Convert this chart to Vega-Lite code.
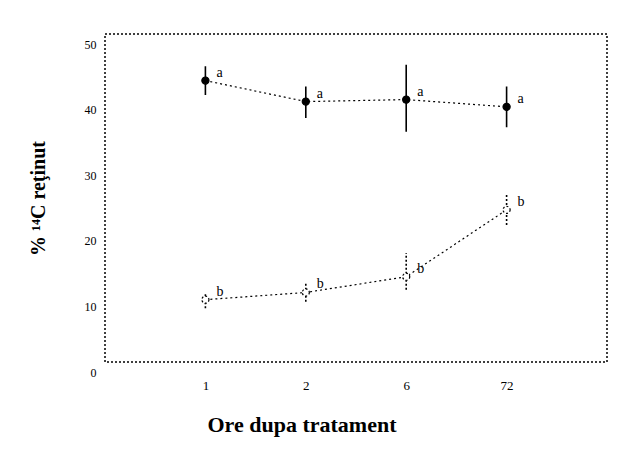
{
  "$schema": "https://vega.github.io/schema/vega-lite/v6.json",
  "width": 502,
  "height": 328,
  "autosize": {"type": "none"},
  "padding": {"left": 105, "top": 34, "right": 15, "bottom": 88},
  "background": "white",
  "config": {
    "view": {"stroke": "black", "strokeWidth": 1.5, "strokeDash": [2, 2]},
    "font": "Liberation Serif",
    "axis": {"titleFont": "Liberation Serif", "labelFont": "Liberation Serif"},
    "text": {"font": "Liberation Serif"}
  },
  "data": {
    "values": [
      {"hour": "1", "series": "A", "mean": 42.9, "lo": 40.7, "hi": 45.1, "label": "a"},
      {"hour": "2", "series": "A", "mean": 39.7, "lo": 37.2, "hi": 42.0, "label": "a"},
      {"hour": "6", "series": "A", "mean": 40.0, "lo": 35.1, "hi": 45.3, "label": "a"},
      {"hour": "72", "series": "A", "mean": 38.9, "lo": 35.8, "hi": 42.0, "label": "a"},
      {"hour": "1", "series": "B", "mean": 9.5, "lo": 8.2, "hi": 10.4, "label": "b"},
      {"hour": "2", "series": "B", "mean": 10.6, "lo": 9.2, "hi": 12.2, "label": "b"},
      {"hour": "6", "series": "B", "mean": 13.0, "lo": 11.0, "hi": 16.6, "label": "b"},
      {"hour": "72", "series": "B", "mean": 23.2, "lo": 20.9, "hi": 25.5, "label": "b"}
    ]
  },
  "encoding": {
    "x": {
      "field": "hour", "type": "ordinal", "sort": ["1", "2", "6", "72"],
      "scale": {"type": "point", "padding": 1},
      "axis": {
        "title": "Ore dupa tratament", "titleFontSize": 22,
        "titleFontWeight": "bold", "titleColor": "black", "titlePadding": 22,
        "titleAnchor": "start", "titleAlign": "left", "titleX": 102,
        "labelAngle": 0, "labelFontSize": 13, "labelColor": "black", "labelPadding": 17,
        "ticks": false, "domain": false, "grid": false
      }
    },
    "y": {
      "field": "mean", "type": "quantitative",
      "scale": {"domain": [0, 50], "nice": false},
      "axis": {
        "title": "% ¹⁴C reţinut", "titleFontSize": 20,
        "titleFontWeight": "bold", "titleColor": "black", "titlePadding": 36,
        "values": [0, 10, 20, 30, 40, 50], "labelFontSize": 12, "labelColor": "black",
        "labelPadding": 9, "labelOffset": 10, "ticks": false, "domain": false, "grid": false
      }
    }
  },
  "layer": [
    {
      "mark": {"type": "line", "color": "black", "strokeWidth": 1.2, "strokeDash": [2, 3]},
      "encoding": {"detail": {"field": "series"}}
    },
    {
      "mark": {"type": "rule", "color": "black", "strokeWidth": 1.6},
      "encoding": {
        "y": {"field": "lo", "type": "quantitative"},
        "y2": {"field": "hi"},
        "strokeDash": {"field": "series", "type": "nominal", "scale": {"domain": ["A", "B"], "range": [[1, 0], [2, 2]]}, "legend": null}
      }
    },
    {
      "mark": {"type": "point", "shape": "circle", "size": 50, "stroke": "black", "strokeWidth": 1.2, "opacity": 1},
      "encoding": {
        "fill": {"field": "series", "type": "nominal", "scale": {"domain": ["A", "B"], "range": ["black", "white"]}, "legend": null},
        "strokeDash": {"field": "series", "type": "nominal", "scale": {"domain": ["A", "B"], "range": [[1, 0], [2, 1]]}, "legend": null}
      }
    },
    {
      "mark": {"type": "text", "align": "left", "dx": 11, "dy": -8, "fontSize": 14, "color": "black"},
      "encoding": {"text": {"field": "label"}}
    }
  ]
}
